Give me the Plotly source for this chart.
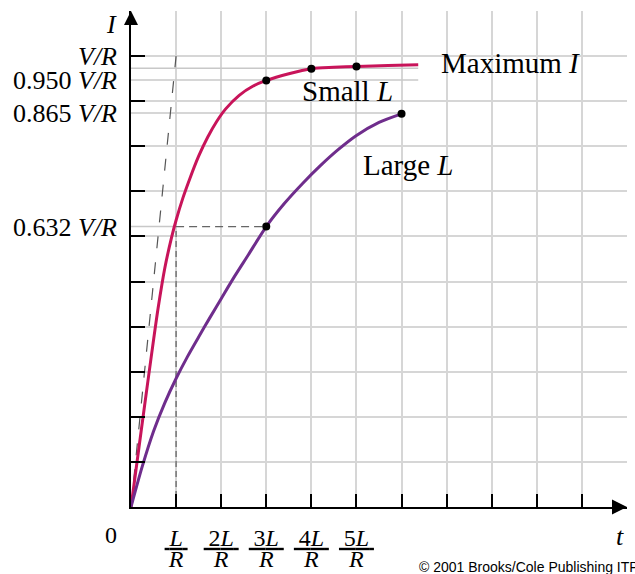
import plotly.graph_objects as go

# ---- data (t in units of L/R, I in units of V/R) ----
t_small = [0, 0.15, 0.30, 0.45, 0.60, 0.75, 0.90, 1.00, 1.15, 1.30, 1.50, 1.70, 1.90, 2.10, 2.40, 2.70, 3.00, 3.50, 4.00, 4.50, 5.00, 5.70, 6.37]
i_small = [0, 0.112, 0.224, 0.334, 0.440, 0.530, 0.598, 0.636, 0.685, 0.727, 0.778, 0.820, 0.855, 0.883, 0.913, 0.933, 0.946, 0.961, 0.972, 0.975, 0.977, 0.979, 0.981]
t_large = [0, 0.25, 0.50, 0.75, 1.00, 1.25, 1.50, 1.75, 2.00, 2.30, 2.60, 3.00, 3.40, 3.80, 4.20, 4.60, 5.00, 5.50, 6.00]
i_large = [0, 0.090, 0.168, 0.231, 0.285, 0.333, 0.377, 0.420, 0.462, 0.512, 0.559, 0.622, 0.673, 0.717, 0.757, 0.793, 0.824, 0.853, 0.872]

dots_small_t = [3, 4, 5]
dots_small_i = [0.946, 0.972, 0.977]
dots_large_t = [3, 6]
dots_large_i = [0.622, 0.872]

tangent_t = [0, 1]
tangent_i = [0, 1.0]

ref_levels = [0.973, 0.947, 0.874]
ref_end_t = [6.37, 6.37, 6.0]
level_632 = 0.622

ylabel_vals = [1.0, 0.947, 0.874, 0.622]
ylabel_text = ["<i>V/R</i>", "0.950 <i>V/R</i>", "0.865 <i>V/R</i>", "0.632 <i>V/R</i>"]

xtick_vals = [1, 2, 3, 4, 5, 6, 7, 8, 9, 10]
frac_vals = [1, 2, 3, 4, 5]
frac_num = ["<i>L</i>", "2<i>L</i>", "3<i>L</i>", "4<i>L</i>", "5<i>L</i>"]
frac_den = ["<i>R</i>"] * 5

T_MAX = 11
I_MAX = 1.1

RED = "#c8145a"
PURPLE = "#6f2d8c"
GRID = "#d6d6d6"
SERIF = "Liberation Serif, Times New Roman, serif"

fig = go.Figure()

# reference levels (light gray)
for lv, te in zip(ref_levels, ref_end_t):
    fig.add_trace(go.Scatter(x=[0, te], y=[lv, lv], mode="lines",
                             line=dict(color="#c8c8c8", width=1.5), hoverinfo="skip", showlegend=False))
fig.add_trace(go.Scatter(x=[0, 1], y=[level_632, level_632], mode="lines",
                         line=dict(color="#c8c8c8", width=1.5), hoverinfo="skip", showlegend=False))

# dashed helpers
fig.add_trace(go.Scatter(x=tangent_t, y=tangent_i, mode="lines",
                         line=dict(color="#555555", width=1.2, dash="12px,14px"), showlegend=False))
fig.add_trace(go.Scatter(x=[1, 1], y=[0, level_632], mode="lines",
                         line=dict(color="#666666", width=1.3, dash="6px,4px"), showlegend=False))
fig.add_trace(go.Scatter(x=[1, dots_large_t[0]], y=[level_632, level_632], mode="lines",
                         line=dict(color="#666666", width=1.3, dash="8px,5px"), showlegend=False))

# curves
fig.add_trace(go.Scatter(x=t_small, y=i_small, mode="lines", line=dict(color=RED, width=3, shape="spline", smoothing=0.8),
                         name="Small L", showlegend=False))
fig.add_trace(go.Scatter(x=t_large, y=i_large, mode="lines", line=dict(color=PURPLE, width=3, shape="spline", smoothing=0.8),
                         name="Large L", showlegend=False))
fig.add_trace(go.Scatter(x=dots_small_t + dots_large_t, y=dots_small_i + dots_large_i, mode="markers",
                         marker=dict(color="black", size=8), showlegend=False))

# axis arrowheads
fig.add_trace(go.Scatter(x=[T_MAX], y=[0], mode="markers", cliponaxis=False,
                         marker=dict(symbol="arrow-right", size=15, color="black"), showlegend=False))
fig.add_trace(go.Scatter(x=[0], y=[I_MAX], mode="markers", cliponaxis=False,
                         marker=dict(symbol="arrow-up", size=14, color="black"), showlegend=False))

num_text = [f'<span style="text-decoration:underline">\u2009{n}\u2009</span>' for n in frac_num]
num_text += [""] * (len(xtick_vals) - len(frac_num))

fig.update_layout(
    width=635, height=574,
    margin=dict(l=131, r=8, t=11, b=67, autoexpand=False),
    paper_bgcolor="white", plot_bgcolor="white",
    font=dict(family=SERIF, color="black"),
    xaxis=dict(range=[0, T_MAX], tickmode="array", tickvals=xtick_vals, ticktext=num_text,
               ticks="inside", ticklen=13, tickwidth=2, tickcolor="black", automargin=False,
               showgrid=True, gridcolor=GRID, gridwidth=1.5,
               minor=dict(tickvals=list(range(0, T_MAX + 1)), showgrid=True, gridcolor=GRID, gridwidth=1.5, ticks=""),
               showline=True, linecolor="black", linewidth=2, zeroline=False,
               tickfont=dict(family=SERIF, size=24), ticklabelstandoff=8),
    xaxis2=dict(range=[0, T_MAX], overlaying="x", side="bottom", anchor="y", tickmode="array",
                tickvals=frac_vals, ticktext=frac_den, ticks="", showgrid=False, showline=False,
                zeroline=False, automargin=False,
                tickfont=dict(family=SERIF, size=24), ticklabelstandoff=35),
    yaxis=dict(range=[0, I_MAX], tickmode="linear", tick0=0.1, dtick=0.1,
               ticks="inside", ticklen=14, tickwidth=2, tickcolor="black", automargin=False,
               showticklabels=False,
               showgrid=True, gridcolor=GRID, gridwidth=1.5,
               minor=dict(tickvals=[round(0.1 * k, 1) for k in range(0, 12)], showgrid=True, gridcolor=GRID, gridwidth=1.5, ticks=""),
               showline=True, linecolor="black", linewidth=2, zeroline=False),
    yaxis2=dict(range=[0, I_MAX], overlaying="y", side="left", tickmode="array", automargin=False,
                tickvals=ylabel_vals, ticktext=ylabel_text, ticks="", showgrid=False,
                showline=False, zeroline=False, tickfont=dict(family=SERIF, size=26), ticklabelstandoff=13),
)

# invisible traces so that the label axes are drawn
fig.add_trace(go.Scatter(x=[0], y=[0], yaxis="y2", mode="markers", marker=dict(opacity=0), hoverinfo="skip", showlegend=False))
fig.add_trace(go.Scatter(x=[0], y=[0], xaxis="x2", mode="markers", marker=dict(opacity=0), hoverinfo="skip", showlegend=False))

fig.add_annotation(x=0, y=0, xref="x", yref="y", text="0", showarrow=False, xanchor="center", yanchor="middle",
                   xshift=-20, yshift=-28, font=dict(family=SERIF, size=24))
fig.add_annotation(x=0, y=I_MAX, xref="x", yref="y", text="<i>I</i>", showarrow=False, xanchor="center", yanchor="middle",
                   xshift=-20, yshift=-13, font=dict(family=SERIF, size=26))
fig.add_annotation(x=T_MAX, y=0, xref="x", yref="y", text="<i>t</i>", showarrow=False, xanchor="center", yanchor="middle",
                   xshift=-7, yshift=-29, font=dict(family=SERIF, size=26))
fig.add_annotation(x=6.83, y=0.985, xref="x", yref="y", text="Maximum <i>I</i>", showarrow=False, xanchor="left", yanchor="middle",
                   font=dict(family=SERIF, size=29))
fig.add_annotation(x=3.75, y=0.922, xref="x", yref="y", text="Small <i>L</i>", showarrow=False, xanchor="left", yanchor="middle",
                   font=dict(family=SERIF, size=29))
fig.add_annotation(x=5.1, y=0.759, xref="x", yref="y", text="Large <i>L</i>", showarrow=False, xanchor="left", yanchor="middle",
                   font=dict(family=SERIF, size=29))
fig.add_annotation(x=(417 - 131) / 496, y=-(567 - 507) / 496, xref="paper", yref="paper",
                   text="© 2001 Brooks/Cole Publishing ITP", showarrow=False,
                   xanchor="left", yanchor="middle", font=dict(family="Liberation Sans, Arial, sans-serif", size=14))

fig.write_html("out.html", config={"displayModeBar": False},
               post_script="document.body.style.margin='0';document.body.style.overflow='hidden';")
